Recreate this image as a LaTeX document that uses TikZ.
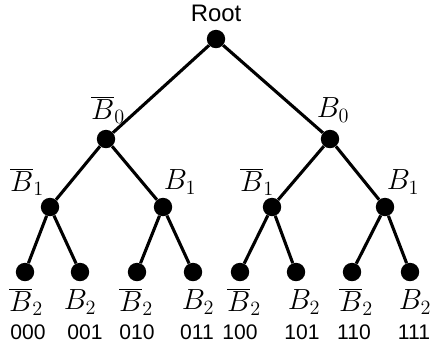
\documentclass[tikz,border=0pt]{standalone}
\usepackage{fontspec}
\setsansfont{Liberation Sans}
\usepackage{tikz}
\tikzstyle{dot} = [circle, fill=black, inner sep=0pt, minimum size=0.46cm]
\tikzstyle{lbl} = [inner sep=0pt, font=\fontsize{21}{24}\selectfont]
\tikzstyle{bits} = [inner sep=0pt, font=\sffamily\fontsize{15}{18}\selectfont]
\tikzstyle{branch} = [line width=2.2pt]

\begin{document}
\begin{tikzpicture}[x=0.025cm, y=-0.025cm]
			\useasboundingbox (0,0) rectangle (434,358);
			
			% Level 0
			\node (root) [dot] at (216,39) {};
			\node (rootlbl) [inner sep=0pt, font=\sffamily\fontsize{17}{20}\selectfont] at (216,13) {Root};
			
			% Level 1
			\node (n0) [dot] at (106,139) {};
			\node (n1) [dot] at (330,139) {};
			\node [lbl] at (108,110) {$\overline{B}_0$};
			\node [lbl] at (333,110) {$B_0$};
			
			% Level 2
			\node (n00) [dot] at (50,207) {};
			\node (n01) [dot] at (163,207) {};
			\node (n10) [dot] at (272,207) {};
			\node (n11) [dot] at (385,207) {};
			\node [lbl] at (27,182) {$\overline{B}_1$};
			\node [lbl] at (180,182) {$B_1$};
			\node [lbl] at (257,182) {$\overline{B}_1$};
			\node [lbl] at (403,182) {$B_1$};
			
			% Level 3
			\node (n000) [dot] at (25,272) {};
			\node (n001) [dot] at (80,272) {};
			\node (n010) [dot] at (137,272) {};
			\node (n011) [dot] at (193,272) {};
			\node (n100) [dot] at (240,272) {};
			\node (n101) [dot] at (296,272) {};
			\node (n110) [dot] at (352,272) {};
			\node (n111) [dot] at (410,272) {};
			
			% Leaf labels
			\node [lbl] at (26,302) {$\overline{B}_2$};
			\node [lbl] at (80,302) {$B_2$};
			\node [lbl] at (136,302) {$\overline{B}_2$};
			\node [lbl] at (198,302) {$B_2$};
			\node [lbl] at (244,302) {$\overline{B}_2$};
			\node [lbl] at (304,302) {$B_2$};
			\node [lbl] at (356,302) {$\overline{B}_2$};
			\node [lbl] at (415,302) {$B_2$};
			\node [bits] at (28,332) {000};
			\node [bits] at (85,332) {001};
			\node [bits] at (137,332) {010};
			\node [bits] at (197,332) {011};
			\node [bits] at (240,332) {100};
			\node [bits] at (302,332) {101};
			\node [bits] at (354,332) {110};
			\node [bits] at (414,332) {111};
			
			% Branches
			\draw [branch] (root) -- (n0);
			\draw [branch] (root) -- (n1);
			\draw [branch] (n0) -- (n00);
			\draw [branch] (n0) -- (n01);
			\draw [branch] (n1) -- (n10);
			\draw [branch] (n1) -- (n11);
			\draw [branch] (n00) -- (n000);
			\draw [branch] (n00) -- (n001);
			\draw [branch] (n01) -- (n010);
			\draw [branch] (n01) -- (n011);
			\draw [branch] (n10) -- (n100);
			\draw [branch] (n10) -- (n101);
			\draw [branch] (n11) -- (n110);
			\draw [branch] (n11) -- (n111);
			
		\end{tikzpicture}
\end{document}
